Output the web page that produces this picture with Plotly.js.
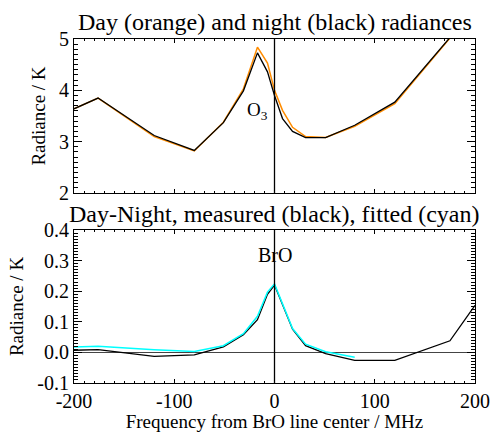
<!DOCTYPE html>
<html>
<head>
<meta charset="utf-8">
<script src="https://cdn.plot.ly/plotly-3.0.1.min.js"></script>
<style>html,body{margin:0;padding:0;background:#fff;}#chart{width:490px;height:432px;}</style>
</head>
<body>
<div id="chart"></div>
<script>
// Frequency offsets (MHz)
const freq = [-200, -176, -120, -80, -51, -31, -17, -7, 0, 8, 18, 31, 51, 80, 120, 175, 200];
// Top panel: day (orange) and night (black) radiances (K)
const dayRad   = [3.64, 3.85, 3.10, 2.82, 3.38, 4.03, 4.84, 4.53, 4.00, 3.61, 3.28, 3.10, 3.08, 3.30, 3.74, 5.02, 5.60];
const nightRad = [3.64, 3.85, 3.12, 2.83, 3.37, 3.99, 4.73, 4.36, 3.90, 3.45, 3.20, 3.08, 3.08, 3.32, 3.77, 5.03, 5.60];
// Bottom panel: day-night measured (black) and fitted (cyan)
const diffMeasured = [0.007, 0.009, -0.013, -0.008, 0.018, 0.058, 0.107, 0.190, 0.220, 0.155, 0.076, 0.022, -0.004, -0.026, -0.026, 0.038, 0.154];
const freqFit = [-200, -176, -120, -80, -51, -31, -17, -7, 0, 8, 18, 31, 51, 80];
const diffFitted = [0.018, 0.020, 0.009, 0.003, 0.022, 0.061, 0.118, 0.197, 0.224, 0.160, 0.078, 0.027, 0.002, -0.016];
// Tick labels
const xTickVals = [-200, -100, 0, 100, 200];
const xTickText = ['-200', '-100', '0', '100', '200'];
const y1TickVals = [2, 3, 4, 5];
const y1TickText = ['2', '3', '4', '5'];
const y2TickVals = [-0.1, 0.0, 0.1, 0.2, 0.3, 0.4];
const y2TickText = ['-0.1', '0.0', '0.1', '0.2', '0.3', '0.4'];

const FONT = 'Liberation Serif';
const ORANGE = 'rgb(255,140,0)';
const CYAN = 'rgb(0,255,255)';

const traces = [
  {x: freq, y: dayRad, xaxis: 'x', yaxis: 'y', mode: 'lines', line: {color: ORANGE, width: 1.5}},
  {x: freq, y: nightRad, xaxis: 'x', yaxis: 'y', mode: 'lines', line: {color: 'black', width: 1.3}},
  {x: freq, y: diffMeasured, xaxis: 'x2', yaxis: 'y2', mode: 'lines', line: {color: 'black', width: 1.3}},
  {x: freqFit, y: diffFitted, xaxis: 'x2', yaxis: 'y2', mode: 'lines', line: {color: CYAN, width: 1.5}}
];

const xCommon = {
  range: [-200, 200], showgrid: false, showline: true, linecolor: 'black',
  mirror: 'ticks', ticks: 'inside', ticklen: 4, tickcolor: 'black', tickwidth: 1,
  tickmode: 'array', tickvals: xTickVals, ticktext: xTickText,
  minor: {dtick: 10, ticks: 'inside', ticklen: 2, tickcolor: 'black'},
  tickfont: {family: FONT, size: 20, color: 'black'}
};
const yCommon = {
  showgrid: false, showline: true, linecolor: 'black',
  mirror: 'ticks', ticks: 'inside', ticklen: 8, tickcolor: 'black', tickwidth: 1, tickmode: 'array',
  tickfont: {family: FONT, size: 20, color: 'black'}
};

const layout = {
  width: 490, height: 432,
  margin: {l: 74, r: 15, t: 39, b: 49},
  showlegend: false,
  font: {family: FONT, color: 'black'},
  xaxis: Object.assign({}, xCommon, {anchor: 'y', showticklabels: false}),
  xaxis2: Object.assign({}, xCommon, {anchor: 'y2',
    title: {text: 'Frequency from BrO line center / MHz', font: {family: FONT, size: 19, color: 'black'}, standoff: 4}}),
  yaxis: Object.assign({}, yCommon, {domain: [0.5523, 1], range: [2, 5], tickvals: y1TickVals, ticktext: y1TickText,
    minor: {dtick: 0.1, ticks: 'inside', ticklen: 4, tickcolor: 'black'},
    title: {text: 'Radiance / K', font: {family: FONT, size: 19, color: 'black'}, standoff: 8}}),
  yaxis2: Object.assign({}, yCommon, {domain: [0, 0.4448], range: [-0.1, 0.4], tickvals: y2TickVals, ticktext: y2TickText,
    minor: {dtick: 0.01, ticks: 'inside', ticklen: 4, tickcolor: 'black'},
    title: {text: 'Radiance / K', font: {family: FONT, size: 19, color: 'black'}, standoff: 8}}),
  shapes: [
    {type: 'line', xref: 'x', yref: 'y domain', x0: 0, x1: 0, y0: 0, y1: 1, line: {color: 'black', width: 1.3}},
    {type: 'line', xref: 'x2', yref: 'y2 domain', x0: 0, x1: 0, y0: 0, y1: 1, line: {color: 'black', width: 1.3}}
  ],
  annotations: [
    {text: 'Day (orange) and night (black) radiances', xref: 'paper', yref: 'paper', x: 0.5, y: 1.049,
     xanchor: 'center', yanchor: 'middle', showarrow: false, font: {family: FONT, size: 24, color: 'black'}},
    {text: 'Day-Night, measured (black), fitted (cyan)', xref: 'paper', yref: 'paper', x: 0.5, y: 0.4913,
     xanchor: 'center', yanchor: 'middle', showarrow: false, font: {family: FONT, size: 24, color: 'black'}},
    {text: 'O<sub>3</sub>', xref: 'x', yref: 'y', x: -17, y: 3.6, xanchor: 'center', yanchor: 'middle',
     showarrow: false, font: {family: FONT, size: 19, color: 'black'}},
    {text: 'BrO', xref: 'x2', yref: 'y2', x: 0, y: 0.318, xanchor: 'center', yanchor: 'middle',
     showarrow: false, font: {family: FONT, size: 20, color: 'black'}}
  ]
};

Plotly.newPlot('chart', traces, layout, {displayModeBar: false});
</script>
</body>
</html>
